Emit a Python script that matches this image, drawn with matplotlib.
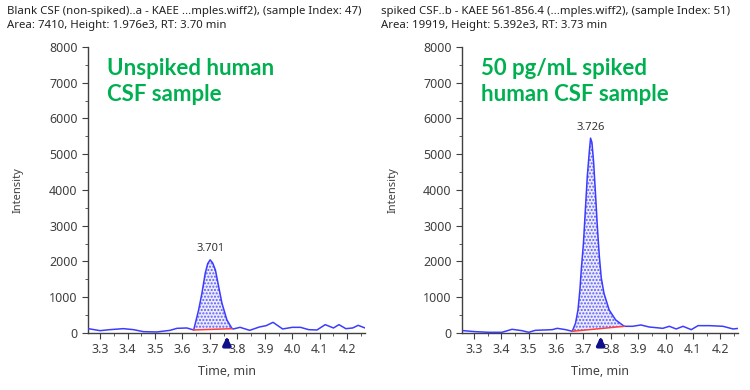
import numpy as np
import matplotlib.pyplot as plt
from matplotlib.ticker import MultipleLocator

plt.rcParams['font.family'] = ['Noto Sans', 'DejaVu Sans']

# Blank CSF trace (time in min, intensity)
t_blank = [3.257, 3.300, 3.336, 3.385, 3.422, 3.458, 3.507, 3.555, 3.580, 3.616, 3.641,
           3.647, 3.659, 3.671, 3.683, 3.692, 3.701, 3.710, 3.720, 3.732, 3.744, 3.762, 3.780,
           3.785, 3.810, 3.845, 3.880, 3.905, 3.930, 3.965, 4.000, 4.030, 4.060,
           4.090, 4.120, 4.150, 4.170, 4.195, 4.220, 4.240, 4.265]
i_blank = [121, 65, 93, 121, 93, 37, 28, 74, 130, 140, 84,
           271, 644, 1110, 1670, 1940, 2046, 1960, 1764, 1296, 830, 364, 131,
           112, 158, 74, 167, 205, 298, 112, 158, 158, 93,
           84, 233, 140, 233, 121, 140, 214, 140]

# Spiked CSF trace
t_spiked = [3.261, 3.304, 3.353, 3.402, 3.439, 3.475, 3.500, 3.524, 3.586, 3.604, 3.635,
            3.659, 3.671, 3.680, 3.687, 3.692, 3.700, 3.707, 3.714, 3.722, 3.726,
            3.731, 3.737, 3.744, 3.751, 3.758, 3.765, 3.775, 3.794, 3.818, 3.849,
            3.880, 3.910, 3.940, 3.990, 4.014, 4.039, 4.064, 4.094, 4.119, 4.161,
            4.210, 4.247, 4.268]
i_spiked = [65, 37, 19, 19, 103, 65, 19, 74, 93, 130, 93,
            47, 271, 644, 1204, 1764, 2512, 3444, 4376, 5124, 5451,
            5330, 4800, 3900, 2950, 2150, 1550, 1110, 644, 364, 187,
            187, 224, 168, 130, 187, 112, 187, 93, 205, 205,
            187, 112, 130]

panels = [
    dict(t=t_blank, i=i_blank, start=3.641, end=3.780, base=(84, 120), rt='3.701',
         title='Blank CSF (non-spiked)..a - KAEE ...mples.wiff2), (sample Index: 47)\n'
               'Area: 7410, Height: 1.976e3, RT: 3.70 min',
         note='Unspiked human\nCSF sample', arrow=3.762),
    dict(t=t_spiked, i=i_spiked, start=3.659, end=3.849, base=(47, 187), rt='3.726',
         title='spiked CSF..b - KAEE 561-856.4 (...mples.wiff2), (sample Index: 51)\n'
               'Area: 19919, Height: 5.392e3, RT: 3.73 min',
         note='50 pg/mL spiked\nhuman CSF sample', arrow=3.763),
]

fig = plt.figure(figsize=(7.5, 3.9), dpi=100)
lefts = [0.1173, 0.616]
widths = [0.3694, 0.368]
gray = '#404040'
blue = '#3c3cff'
green = '#00b050'

for k, p in enumerate(panels):
    ax = fig.add_axes([lefts[k], 0.1462, widths[k], 0.7333])
    t = np.array(p['t'])
    y = np.array(p['i'])
    ax.plot(t, y, color=blue, lw=1.1, zorder=3)

    # integrated peak area above the baseline
    m = (t >= p['start']) & (t <= p['end'])
    b0, b1 = p['base']
    base = b0 + (b1 - b0) * (t[m] - p['start']) / (p['end'] - p['start'])
    ax.fill_between(t[m], base, y[m], facecolor='#ececfc', edgecolor='#5a5aff',
                    hatch='.....', lw=0, zorder=2)
    ax.plot([p['start'], p['end']], [b0, b1], color='#ff4040', lw=1.1, zorder=4)

    apex = np.argmax(y)
    ax.text(t[apex], y[apex] + 150, p['rt'], ha='center', va='bottom',
            fontsize=8, color='#333333')

    ax.annotate('', xy=(p['arrow'], -0.003), xycoords=('data', 'axes fraction'),
                xytext=(p['arrow'], -0.045), textcoords=('data', 'axes fraction'),
                arrowprops=dict(arrowstyle='-|>', color='#10108a', lw=2.6,
                                mutation_scale=11), annotation_clip=False)

    ax.set_xlim(3.256, 4.265)
    ax.set_ylim(0, 8000)
    ax.xaxis.set_minor_locator(MultipleLocator(0.05))
    ax.yaxis.set_major_locator(MultipleLocator(1000))
    ax.yaxis.set_minor_locator(MultipleLocator(500))
    ax.set_xticks(np.arange(3.3, 4.25, 0.1))
    ax.set_xticklabels(['%.1f' % v for v in np.arange(3.3, 4.25, 0.1)])
    for s in ['top', 'right']:
        ax.spines[s].set_visible(False)
    for s in ['left', 'bottom']:
        ax.spines[s].set_color(gray)
        ax.spines[s].set_linewidth(1.0)
    ax.tick_params(which='major', length=4, color=gray, labelcolor=gray, labelsize=9)
    ax.tick_params(which='minor', length=2, color=gray)
    ax.set_xlabel('Time, min', fontsize=9, color=gray, labelpad=6)
    ax.set_ylabel('Intensity', fontsize=8, color=gray, labelpad=18)

    fig.text(lefts[k] - 0.108, 0.985, p['title'], ha='left', va='top',
             fontsize=8.2, color='#222222', linespacing=1.35)
    ax.text(0.07, 0.96, p['note'], transform=ax.transAxes, ha='left', va='top',
            fontsize=16, fontweight='bold', color=green, family='Lato',
            linespacing=1.25)

fig.savefig('out.png', dpi=100)
